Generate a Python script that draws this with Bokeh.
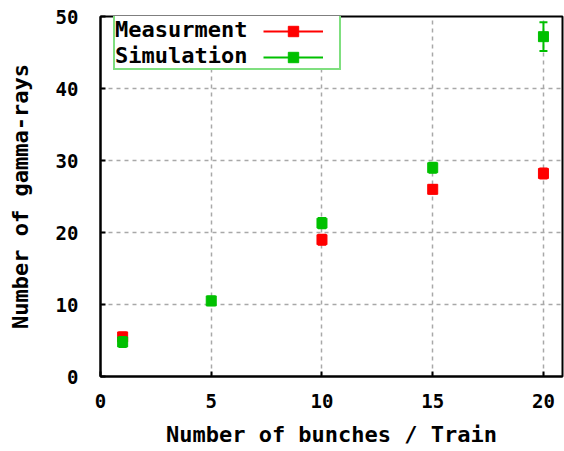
from bokeh.plotting import figure
from bokeh.models import (Range1d, FixedTicker, LinearAxis, Legend, LegendItem,
                          ColumnDataSource)
from bokeh.embed import file_html
from bokeh.resources import INLINE

# ---- data ----
meas_x = [1, 10, 15, 20]
meas_y = [5.5, 19.0, 26.0, 28.2]
meas_err = [0.6, 0.7, 0.6, 0.7]

sim_x = [1, 5, 10, 15, 20]
sim_y = [4.8, 10.5, 21.3, 29.0, 47.2]
sim_err = [0.7, 0.6, 0.7, 0.7, 2.0]

x_ticks = [0, 5, 10, 15, 20]
y_ticks = [0, 10, 20, 30, 40, 50]

series_names = ["Measurment", "Simulation"]
x_label = "Number of bunches / Train"
y_label = "Number of gamma-rays"

RED = "#ff0000"
GREEN = "#00c000"
FONT = "DejaVu Sans Mono"

p = figure(width=564, height=451,
           x_range=Range1d(0, 20.86), y_range=Range1d(0, 50),
           output_backend="svg", toolbar_location=None,
           x_axis_location=None, y_axis_location=None,
           min_border_left=100, min_border_right=2,
           min_border_top=16, min_border_bottom=75)

p.outline_line_color = "black"
p.outline_line_width = 2
p.background_fill_color = "white"


def style_axis(ax):
    ax.axis_line_color = "black"
    ax.axis_line_width = 2
    ax.major_tick_in = 5
    ax.major_tick_out = 0
    ax.major_tick_line_color = "black"
    ax.major_tick_line_width = 2
    ax.minor_tick_line_color = None
    ax.major_label_text_font = FONT
    ax.major_label_text_font_style = "bold"
    ax.major_label_text_font_size = "19px"
    ax.major_label_text_color = "black"
    ax.axis_label_text_font = FONT
    ax.axis_label_text_font_style = "bold"
    ax.axis_label_text_font_size = "22px"
    ax.axis_label_text_color = "black"


xb = LinearAxis(ticker=FixedTicker(ticks=x_ticks), axis_label=x_label)
style_axis(xb)
xb.major_label_standoff = 17
xb.axis_label_standoff = 11
p.add_layout(xb, "below")

yl = LinearAxis(ticker=FixedTicker(ticks=y_ticks), axis_label=y_label)
style_axis(yl)
yl.major_label_standoff = 22
yl.axis_label_standoff = 20
p.add_layout(yl, "left")

p.xgrid.ticker = FixedTicker(ticks=x_ticks)
p.ygrid.ticker = FixedTicker(ticks=y_ticks)
for g in (p.xgrid, p.ygrid):
    g.grid_line_color = "#a8a8a8"
    g.grid_line_width = 1.5
    g.grid_line_dash = "4 4"

renderers = []
for xs, ys, es, col in ((meas_x, meas_y, meas_err, RED),
                        (sim_x, sim_y, sim_err, GREEN)):
    src = ColumnDataSource(dict(
        x=xs, y=ys,
        lo=[y - e for y, e in zip(ys, es)],
        hi=[y + e for y, e in zip(ys, es)]))
    seg = p.segment(x0="x", y0="lo", x1="x", y1="hi", source=src,
                    line_color=col, line_width=2)
    p.scatter(x="x", y="lo", source=src, marker="dash", size=8,
              line_color=col, line_width=2)
    p.scatter(x="x", y="hi", source=src, marker="dash", size=8,
              line_color=col, line_width=2)
    sq = p.scatter(x="x", y="y", source=src, marker="square", size=10,
                   fill_color=col, line_color=col)
    renderers.append((seg, sq))

# legend box with text (gnuplot style: text first, sample after)
leg_text = Legend(
    items=[LegendItem(label=series_names[i], renderers=[renderers[i][1]])
           for i in range(2)],
    location=(13, 306), glyph_width=0, glyph_height=26, label_height=26,
    label_width=224, label_standoff=0, padding=0, spacing=0, margin=0,
    label_text_font=FONT, label_text_font_style="bold",
    label_text_font_size="22px", label_text_color="black",
    border_line_color=GREEN, border_line_width=2,
    background_fill_color="white", background_fill_alpha=1.0)
p.add_layout(leg_text, "center")

leg_glyph = Legend(
    items=[LegendItem(label=" ", renderers=list(renderers[i]))
           for i in range(2)],
    location=(163, 306), glyph_width=60, glyph_height=26, label_height=26,
    label_width=0, label_standoff=0, padding=0, spacing=0, margin=0,
    label_text_font_size="22px",
    border_line_color=None, background_fill_alpha=0.0)
p.add_layout(leg_glyph, "center")

open("out.html", "w").write(file_html(p, INLINE))
